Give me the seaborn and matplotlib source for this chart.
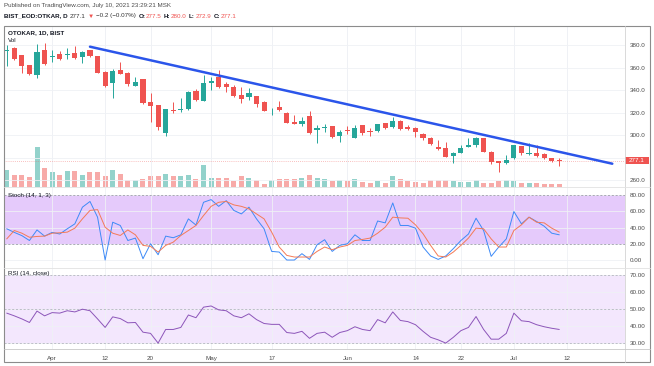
import numpy as np
import pandas as pd
import matplotlib
matplotlib.use('Agg')
import matplotlib.pyplot as plt
import matplotlib.transforms as mtransforms
from matplotlib.patches import Rectangle
from matplotlib.lines import Line2D
import seaborn as sns

# daily bars, 24 Mar - 9 Jul 2021 (BIST trading days)
opens = [375, 377, 371, 362, 353.3, 375.5, 369.5, 372, 371, 372.6, 369.6, 375.5, 370.2, 356.3, 346,
         357.8, 355.4, 343.8, 349.5, 329.6, 326.7, 301.5, 322, 322.2, 322.8, 339.4, 330.5, 346.5, 351.9, 345,
         342.4, 335.5, 334, 334.7, 329.6, 321.8, 325.2, 319.9, 311.8, 309.8, 316.9, 304.4, 306.1, 308, 299.1,
         304.4, 297.6, 308.9, 303, 303.5, 310.4, 306.8, 312.7, 307.4, 306.5, 300.6, 297.6, 289, 288.1, 281.3,
         284.3, 289.6, 291.1, 297, 285.2, 276.9, 274.8, 279.3, 290.2, 283.1, 283.7, 282.8, 279.3, 277.5]
highs = [380, 378.5, 371.5, 362.5, 381, 382.1, 375.5, 375, 377, 379, 375, 376, 370.5, 356.5, 358.4,
         365.2, 355.6, 351.9, 349.7, 337, 326.9, 322.8, 329.6, 332.6, 338.8, 340.6, 353.3, 351.9, 357.8, 347.4,
         344.4, 343, 341.5, 335, 329.8, 324.3, 330.2, 320.1, 317.8, 315.7, 321.6, 308.9, 309.5, 308.2, 304.4,
         308, 308.9, 309.1, 305.9, 309.9, 311, 315.7, 313, 308.9, 306.7, 301.5, 298.5, 295.6, 294.1, 285.2,
         291.1, 297, 298.5, 297.2, 285.4, 277.1, 282.2, 291.1, 290.4, 292.6, 291.1, 283.7, 279.9, 280.0]
lows = [361.3, 367, 354.8, 353.3, 350.4, 362.5, 365.2, 366.7, 368, 368, 363.7, 369.5, 354.8, 343, 332.6,
        353.8, 343.6, 343.5, 328, 311.8, 304.4, 299.1, 319.3, 320.7, 322.2, 330.5, 330.2, 340, 342, 338.5,
        334, 328.7, 331.1, 325.2, 321.3, 317.8, 321.6, 310.4, 309.6, 308, 301.3, 293.2, 303, 297, 294.1,
        300.6, 297, 300, 299.1, 303, 305.5, 306.5, 304.4, 304.4, 298.5, 296, 291, 286.7, 280.5, 275.4,
        283.7, 289.4, 289.6, 285, 274.2, 267.4, 274.2, 279.1, 282.2, 282.2, 280.7, 279, 276.3, 272.9]
closes = [376, 368, 361.6, 354, 373.5, 363.1, 370.5, 367.5, 372, 368.7, 373.5, 370.2, 355.4, 343.6, 357.2,
          354, 345.3, 347.4, 328.7, 326.1, 306.8, 322.8, 321.3, 323.1, 338.5, 331.1, 345.9, 348.3, 342.4, 342.4,
          334.7, 331.7, 337.6, 327.6, 321.3, 322.2, 322.2, 310.4, 309.8, 312.4, 301.5, 305.9, 307.4, 297.9, 302.4,
          303.5, 306.5, 302.1, 302.9, 309.8, 306, 312.7, 305, 305.3, 302.4, 297, 291.7, 287.6, 280.7, 283.7,
          288.1, 291.1, 297, 285.2, 275.7, 274.8, 277.8, 291.1, 283.7, 284.3, 281.3, 279.3, 277.3, 277.1]
volumes = [668, 492, 492, 400, 1600, 760, 600, 468, 640, 628, 468, 600, 600, 428, 692,
           532, 292, 268, 332, 428, 428, 532, 428, 428, 492, 332, 868, 372, 372, 372,
           240, 440, 372, 268, 132, 268, 332, 332, 332, 360, 468, 372, 308, 240, 292,
           228, 308, 200, 172, 240, 172, 440, 308, 228, 200, 172, 268, 268, 268, 240,
           200, 200, 268, 172, 172, 228, 268, 228, 160, 172, 160, 132, 120, 108]

stoch_k = [38.4, 34, 30, 24, 37, 29.4, 34, 32, 38.4, 44.5, 65, 72, 52.7, 0, 46.5, 42.5, 24, 27, 1.6, 20,
           6.5, 29.4, 27.4, 31, 50.6, 43, 71, 74.3, 66, 73, 61, 56.7, 65, 50.6, 38.4, 10.6, 9.8, 0, 0, 7.8,
           0.8, 18.8, 25, 10.6, 18, 20, 31, 24, 24, 48, 45.7, 70.2, 42.5, 42.5, 39.2, 16, 5, 0.8, 5, 14,
           24, 32, 51.4, 36.3, 4.5, 16, 26, 59.6, 44.5, 52.7, 47.4, 41.6, 33, 31]
stoch_d = [26, 36.3, 33, 28, 29, 29.4, 33, 33.5, 34.3, 39.2, 50.6, 61, 62, 40.4, 33, 30.2, 37, 31, 18, 16.8,
           9.8, 18, 22, 30.2, 36.3, 42.5, 54.7, 66, 71, 72, 67.8, 66, 62.9, 56.7, 50.6, 34.3, 16, 5.7, 3.7, 3.7,
           3.7, 10.6, 16, 12.7, 16, 18, 24, 25.3, 27, 33, 40.4, 52.7, 51.8, 51.4, 43.3, 32.3, 18, 5, 3.7, 9.8,
           18, 27, 39.2, 38.4, 26, 16, 16, 36.3, 43.3, 52.7, 46.5, 45.7, 39.2, 34.3]
rsi = [47.7, 46.1, 44.3, 42.2, 48.9, 46.1, 48, 47.7, 49.1, 48.4, 50, 49.1, 44.3, 39.3, 45.5, 44.5, 42, 42.2, 36.5, 35.8,
       30.1, 38.1, 38.1, 39.3, 46.6, 45, 51.2, 51.9, 49.6, 49.1, 46.1, 45, 47.3, 43.9, 41.6, 41.1, 41.1, 36.3, 35.8, 37,
       32.9, 35.8, 36.5, 33.5, 36.3, 37.4, 39.7, 38.1, 37.4, 43.9, 42, 48.4, 43.4, 42.7, 40.9, 37, 33.5, 32, 30.1, 33.5,
       37.4, 39.3, 45.7, 38.1, 32.4, 32.4, 35.8, 47.7, 43.2, 42.7, 40.9, 39.7, 38.8, 38.1]

tick_pos = [6, 13, 19, 27, 35, 45, 54, 60, 67, 74]
tick_labels = ['Apr', '12', '20', 'May', '17', 'Jun', '14', '22', 'Jul', '12']
trend_x = [11, 80]
trend_y = [378.5, 274.5]
last_price = 277.1

price_ticks = [260, 280, 300, 320, 340, 360, 380]
stoch_ticks = [0, 20, 40, 60, 80]
rsi_ticks = [30, 40, 50, 60, 70]

UP, DOWN = '#26a69a', '#ef5350'
UP_V, DOWN_V = '#93d2cb', '#f7aaa8'
GRID = '#eff1f5'
TXT = '#4a4a4a'

sns.set_theme(style='white')
plt.rcParams['font.family'] = ['Liberation Sans', 'DejaVu Sans']

W, H = 654, 366
fig = plt.figure(figsize=(W / 100, H / 100), dpi=100)
fig.patch.set_facecolor('white')


def rect(x0, y0, x1, y1):
    return [x0 / W, 1 - y1 / H, (x1 - x0) / W, (y1 - y0) / H]


ax_v = fig.add_axes(rect(4, 26, 625, 187))
ax_p = fig.add_axes(rect(4, 26, 625, 187), sharex=ax_v)
ax_s = fig.add_axes(rect(4, 187, 625, 268), sharex=ax_v)
ax_r = fig.add_axes(rect(4, 268, 625, 348.7), sharex=ax_v)
ax_p.patch.set_visible(False)

df = pd.DataFrame({'open': opens, 'high': highs, 'low': lows, 'close': closes,
                   'vol': volumes, 'k': stoch_k, 'd': stoch_d, 'rsi': rsi})
df['idx'] = np.arange(len(df))
up = df['close'] >= df['open']
colors = np.where(up, UP, DOWN)

# volume
ax_v.bar(df['idx'], df['vol'], width=0.66, color=np.where(up, UP_V, DOWN_V), linewidth=0)
ax_v.set_ylim(0, 6440)
ax_v.set_yticks([])
ax_v.grid(True, axis='x', color=GRID, lw=0.6)
ax_v.set_xticks(tick_pos)
ax_v.tick_params(labelbottom=False, length=0)

# candles
body_lo = df[['open', 'close']].min(axis=1)
body_h = (df['close'] - df['open']).abs().clip(lower=0.5)
ax_p.vlines(df['idx'], df['low'], df['high'], color=colors, lw=0.7, zorder=3)
ax_p.bar(df['idx'], body_h, bottom=body_lo, width=0.68, color=colors, linewidth=0, zorder=4)
ax_p.plot(trend_x, trend_y, color='#2b55ea', lw=1.8, solid_capstyle='round', zorder=5)
ax_p.axhline(last_price, color=DOWN, lw=0.5, ls=(0, (1, 2)), alpha=0.7, zorder=2)
ax_p.set_ylim(253.8, 396.9)
# the 280 label sits under the last-price tag, so it stays blank
ax_p.set_yticks(price_ticks, ['' if t == 280 else f'{t:.1f}' for t in price_ticks])
ax_p.grid(True, axis='y', color=GRID, lw=0.6)

blend = mtransforms.blended_transform_factory(ax_p.transAxes, ax_p.transData)
ax_p.add_patch(Rectangle((1.0, last_price - 3.1), 24 / 621, 6.2, transform=blend,
                         facecolor=DOWN, edgecolor='none', clip_on=False, zorder=10))
ax_p.text(1.0 + 12 / 621, last_price, f'{last_price:.1f}', transform=blend, ha='center', va='center',
          fontsize=4.5, color='white', clip_on=False, zorder=11)

# stochastic
ax_s.axhspan(20, 80, color='#e5cafb', zorder=0, lw=0)
for lvl in (20, 80):
    ax_s.axhline(lvl, color='#8f8f9c', lw=0.5, ls=(0, (3, 2.5)), zorder=1)
sns.lineplot(data=df, x='idx', y='k', ax=ax_s, color='#3d8af7', lw=0.7, zorder=3)
sns.lineplot(data=df, x='idx', y='d', ax=ax_s, color='#f47a56', lw=0.7, zorder=3)
ax_s.set_ylim(-9.8, 89.8)
ax_s.set_yticks(stoch_ticks, [f'{t:.2f}' for t in stoch_ticks])

# RSI
ax_r.axhspan(30, 70, color='#f3e7fd', zorder=0, lw=0)
for lvl in (30, 50, 70):
    ax_r.axhline(lvl, color='#a9a9b6', lw=0.5, ls=(0, (3, 2.5)), zorder=1)
sns.lineplot(data=df, x='idx', y='rsi', ax=ax_r, color='#8c55b9', lw=0.7, zorder=3)
ax_r.set_ylim(26.8, 74.2)
ax_r.set_yticks(rsi_ticks, [f'{t:.2f}' for t in rsi_ticks])

for ax in (ax_p, ax_s, ax_r):
    ax.yaxis.tick_right()
    ax.tick_params(axis='y', length=0, pad=3.2, labelsize=4.5, labelcolor=TXT)
    ax.tick_params(axis='x', length=0)
    ax.grid(True, color=GRID, lw=0.6)
    ax.set_axisbelow(True)
    ax.set_xlabel('')
    ax.set_ylabel('')
for ax in (ax_v, ax_p, ax_s, ax_r):
    for sp in ax.spines.values():
        sp.set_visible(False)
ax_p.tick_params(labelbottom=False)
ax_s.tick_params(labelbottom=False)
ax_r.set_xticks(tick_pos, tick_labels)
ax_r.tick_params(axis='x', labelsize=4.5, labelcolor=TXT, pad=5)
ax_v.set_xlim(-0.36, 81.68)

# frame and separators
fig.add_artist(Rectangle((4 / W, 1 - 362 / H), 646 / W, 336 / H, fill=False, edgecolor='#8c8c8c',
                         lw=0.8, transform=fig.transFigure))


def line_px(xs, ys, color):
    fig.add_artist(Line2D([x / W for x in xs], [1 - y / H for y in ys], transform=fig.transFigure,
                          color=color, lw=0.6))


line_px([625, 625], [26, 362], '#d3d3d3')
line_px([4, 650], [348.7, 348.7], '#c8c8c8')
line_px([4, 650], [187, 187], '#e2e2e2')
line_px([4, 650], [268, 268], '#e2e2e2')

# pane legends
fig.text(8 / W, 1 - 33 / H, 'OTOKAR, 1D, BIST', fontsize=4.5, fontweight='bold', color='#131722', va='center')
fig.text(8 / W, 1 - 41 / H, 'Vol', fontsize=4.5, color='#131722', va='center')
fig.text(8 / W, 1 - 195 / H, 'Stoch (14, 1, 3)', fontsize=4.5, color='#131722', va='center')
fig.text(8 / W, 1 - 273.5 / H, 'RSI (14, close)', fontsize=4.5, color='#131722', va='center')

# header
fig.text(4 / W, 1 - 6 / H, 'Published on TradingView.com, July 10, 2021 23:29:21 MSK',
         fontsize=4.5, color=TXT, va='center')
renderer = fig.canvas.get_renderer()
pieces = [('BIST_EOD:OTKAR, D', '#131722', 'bold', 2.5), ('277.1', '#333333', 'normal', 2),
          ('\u25bc', DOWN, 'normal', 2), ('\u22120.2 (\u22120.07%)', '#333333', 'normal', 2.5),
          ('O:', '#131722', 'bold', 0.3), ('277.5', DOWN, 'normal', 2.5),
          ('H:', '#131722', 'bold', 0.3), ('280.0', DOWN, 'normal', 2.5),
          ('L:', '#131722', 'bold', 0.3), ('272.9', DOWN, 'normal', 2.5),
          ('C:', '#131722', 'bold', 0.3), ('277.1', DOWN, 'normal', 0)]
x = 4
for txt, col, wt, gap in pieces:
    t = fig.text(x / W, 1 - 16 / H, txt, fontsize=4.5, color=col, fontweight=wt, va='center')
    x += t.get_window_extent(renderer=renderer).width + gap

fig.savefig('out.png', dpi=100)
